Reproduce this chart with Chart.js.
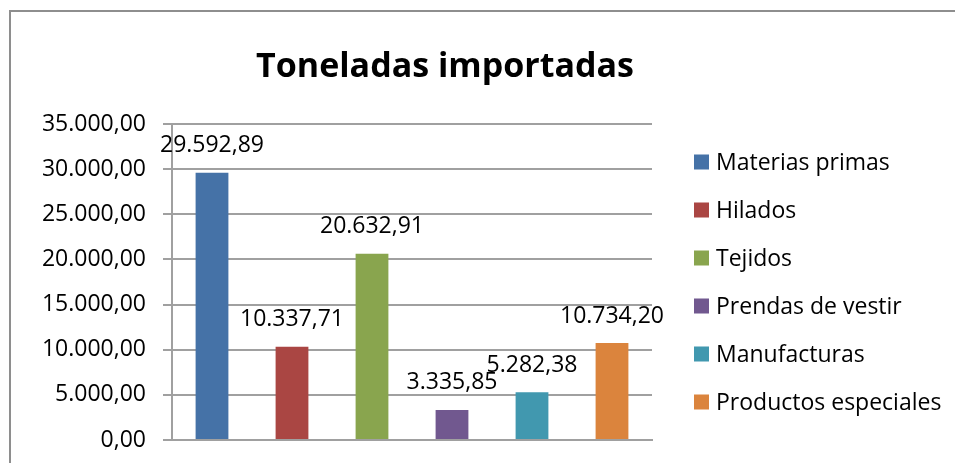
<!DOCTYPE html>
<html lang="es">
  <head>
    <meta charset="UTF-8" />
    <title>Toneladas importadas</title>
    <script src="https://cdn.jsdelivr.net/npm/chart.js"></script>
    <style>
      html, body { margin: 0; padding: 0; background: #fff; overflow: hidden; }
      #wrap { position: relative; width: 955px; height: 463px; }
      #frame { position: absolute; left: 9px; top: 10px; width: 960px; height: 470px; border: 2px solid #8e8e8e; pointer-events: none; }
      #chart { position: absolute; left: 0; top: 0; }
    </style>
  </head>
  <body>
    <div id="wrap">
      <canvas id="chart" width="955" height="463"></canvas>
      <div id="frame"></div>
    </div>

    <script>
      // datos
      const categorias = ["Materias primas", "Hilados", "Tejidos", "Prendas de vestir", "Manufacturas", "Productos especiales"];
      const toneladas = [29592.89, 10337.71, 20632.91, 3335.85, 5282.38, 10734.20];
      const colores = ["#4572A7", "#AA4643", "#89A54E", "#71588F", "#4198AF", "#DB843D"];
      const ticksY = [0, 5000, 10000, 15000, 20000, 25000, 30000, 35000];
      const titulo = "Toneladas importadas";

      const fuente = "'Open Sans', 'Noto Sans', sans-serif";

      // 29592.89 -> "29.592,89"
      function formato(v) {
        const partes = v.toFixed(2).split(".");
        const entero = partes[0].replace(/\B(?=(\d{3})+(?!\d))/g, ".");
        return entero + "," + partes[1];
      }

      // etiquetas encima de cada barra
      const etiquetas = {
        id: "etiquetas",
        afterDatasetsDraw(chart) {
          const ctx = chart.ctx;
          const meta = chart.getDatasetMeta(0);
          ctx.save();
          ctx.font = "23px " + fuente;
          ctx.fillStyle = "#000";
          ctx.textAlign = "center";
          ctx.textBaseline = "middle";
          meta.data.forEach((bar, i) => {
            ctx.fillText(formato(toneladas[i]), bar.x, bar.y - 27);
          });
          ctx.restore();
        },
      };

      // titulo + leyenda a la derecha (la leyenda de Chart.js se limita a 1/4 del ancho)
      const extras = {
        id: "extras",
        afterDraw(chart) {
          const ctx = chart.ctx;
          const area = chart.chartArea;
          ctx.save();
          ctx.font = "bold 34px " + fuente;
          ctx.fillStyle = "#000";
          ctx.textAlign = "center";
          ctx.textBaseline = "alphabetic";
          ctx.fillText(titulo, 445, 77);

          const paso = 48;
          const centro = (area.top + area.bottom) / 2;
          const x0 = area.right + 42;
          ctx.font = "23px " + fuente;
          ctx.textAlign = "left";
          ctx.textBaseline = "middle";
          categorias.forEach((c, i) => {
            const y = centro + (i - (categorias.length - 1) / 2) * paso;
            ctx.fillStyle = colores[i];
            ctx.fillRect(x0, y - 7.5, 15, 15);
            ctx.fillStyle = "#000";
            ctx.fillText(c, x0 + 22, y + 1);
          });
          ctx.restore();
        },
      };

      new Chart(document.getElementById("chart"), {
        type: "bar",
        data: {
          labels: categorias,
          datasets: [
            {
              label: "Toneladas",
              data: toneladas,
              backgroundColor: colores,
              borderWidth: 0,
              categoryPercentage: 1,
              barPercentage: 0.41,
            },
          ],
        },
        options: {
          responsive: false,
          animation: false,
          layout: { padding: { top: 124, right: 303, bottom: 23, left: 10 } },
          plugins: {
            title: { display: false },
            tooltip: { enabled: false },
            legend: { display: false },
          },
          scales: {
            x: {
              grid: { display: false },
              ticks: { display: false },
              border: { display: true, color: "#a0a0a0", width: 2 },
              afterFit: (axis) => {
                axis.height = 0;
              },
            },
            y: {
              min: 0,
              max: 35000,
              afterBuildTicks: (axis) => {
                axis.ticks = ticksY.map((v) => ({ value: v }));
              },
              afterFit: (axis) => {
                axis.width = 162;
                axis.paddingTop = 0;
                axis.paddingBottom = 0;
              },
              ticks: {
                font: { family: fuente, size: 23 },
                color: "#000",
                padding: 17,
                callback: (v) => formato(v),
              },
              grid: { color: "#a0a0a0", lineWidth: 2, tickLength: 9 },
              border: { display: true, color: "#a0a0a0", width: 2 },
            },
          },
        },
        plugins: [etiquetas, extras],
      });
    </script>
  </body>
</html>
